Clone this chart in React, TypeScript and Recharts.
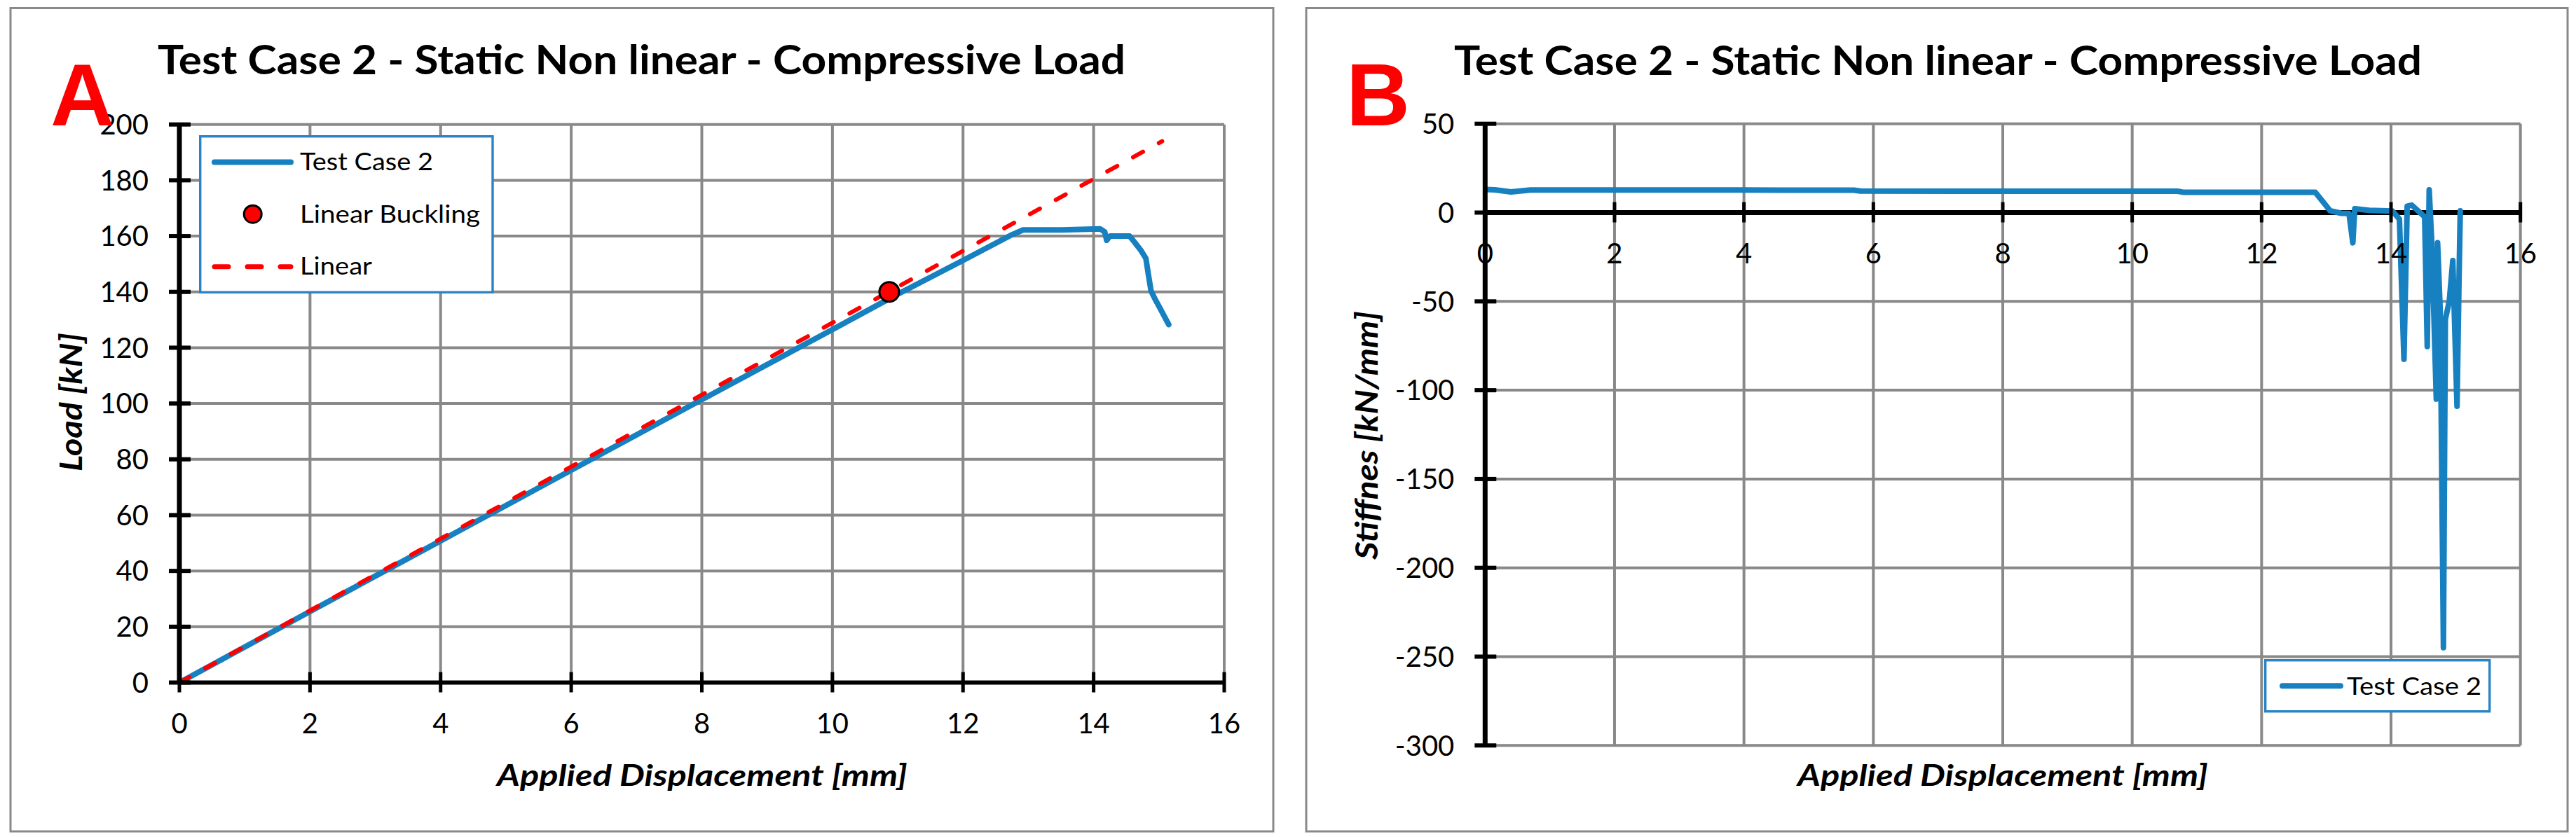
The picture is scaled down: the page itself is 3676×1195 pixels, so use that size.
import React from 'react';
import {
  ComposedChart,
  LineChart,
  Line,
  Scatter,
  XAxis,
  YAxis,
  CartesianGrid,
  Legend,
  ReferenceLine,
} from 'recharts';

// ---------- tick labels ----------
const dispTicks = [0, 2, 4, 6, 8, 10, 12, 14, 16];
const loadTicks = [0, 20, 40, 60, 80, 100, 120, 140, 160, 180, 200];
const stiffTicks = [-300, -250, -200, -150, -100, -50, 0, 50];

// ---------- chart A : load vs displacement ----------
const testDisp = [0, 2, 4, 6, 8, 10, 11, 12, 12.75, 12.92, 13.5, 14.0, 14.1, 14.17, 14.2, 14.25, 14.55, 14.62, 14.72, 14.8, 14.84, 14.88, 14.95, 15.02, 15.15];
const testLoad = [0, 25.5, 50.8, 76.1, 101.4, 126.5, 139.2, 151.3, 160.5, 162.2, 162.2, 162.5, 162.6, 161.5, 158.5, 160, 160, 158, 155, 152, 146, 140.3, 137, 134, 128.3];
const linearDisp = [0, 15.05];
const linearLoad = [0, 194];
const bucklingDisp = [10.87];
const bucklingLoad = [140];

// ---------- chart B : stiffness vs displacement ----------
const stiffDisp = [0, 0.15, 0.4, 0.7, 2, 4, 5.7, 5.8, 10.7, 10.8, 12.83, 12.95, 13.06, 13.23, 13.35, 13.41, 13.44, 13.66, 14.02, 14.13, 14.2, 14.25, 14.32, 14.52, 14.56, 14.59, 14.63, 14.7, 14.72, 14.76, 14.81, 14.84, 14.9, 14.955, 15.02, 15.05, 15.07];
const stiffValue = [13, 12.8, 11.6, 12.7, 12.7, 12.7, 12.6, 12.1, 12.0, 11.4, 11.4, 6, 1, -0.4, -0.5, -17, 2.2, 1.3, 0.9, -3.7, -82.6, 3.6, 4.2, -2.4, -75.4, 12.8, -17, -105, -17, -55, -245, -60, -50, -27, -109, -40, 1];

const toPoints = (xs: number[], ys: number[]) => xs.map((x, i) => ({ x, y: ys[i] }));
const testData = toPoints(testDisp, testLoad);
const linearData = toPoints(linearDisp, linearLoad);
const bucklingData = toPoints(bucklingDisp, bucklingLoad);
const stiffData = toPoints(stiffDisp, stiffValue);

const BLUE = '#1780c0';
const BORDER_BLUE = '#2a84c4';
const GRID = '#898989';
const FONT = 'Lato, "Open Sans", sans-serif';

// ---------- layout ----------
const W = 1838;
const H = 1195;
const A_PLOT = { left: 256, top: 177.7, right: 1747, bottom: 974.5 };
const B_PLOT = { left: 281.3, top: 176.7, right: 1758.7, bottom: 1064.3 };
const AXIS_W = 60;
const AXIS_H = 30;
const B_LIFT = ((B_PLOT.bottom - B_PLOT.top) * 300) / 350; // distance from -300 to 0

const makeXTick = (lift: number) => (props: any) => {
  const { x, y, payload } = props;
  const ay = y - lift;
  return (
    <g>
      <line x1={x} x2={x} y1={ay - 15} y2={ay + 14} stroke="#000" strokeWidth={5} />
      <text x={x} y={ay + 72} textAnchor="middle" fontFamily={FONT} fontSize={40} fill="#000">
        {payload.value}
      </text>
    </g>
  );
};

const YTick = (props: any) => {
  const { x, y, payload } = props;
  return (
    <g>
      <line x1={x - 15} x2={x + 16} y1={y} y2={y} stroke="#000" strokeWidth={6} />
      <text x={x - 44} y={y + 14.3} textAnchor="end" fontFamily={FONT} fontSize={40} fill="#000">
        {payload.value}
      </text>
    </g>
  );
};

const LegendA = () => (
  <svg width={421} height={226} style={{ display: 'block' }}>
    <rect x={1.7} y={1.7} width={417.3} height={222.6} fill="#fff" stroke={BORDER_BLUE} strokeWidth={3.4} />
    <line x1={22} x2={131} y1={38.4} y2={38.4} stroke={BLUE} strokeWidth={8} strokeLinecap="round" />
    <text x={144} y={50} fontFamily={FONT} fontSize={35} fill="#000" textLength={190} lengthAdjust="spacingAndGlyphs">
      Test Case 2
    </text>
    <circle cx={76.7} cy={112.7} r={12.5} fill="#ff0000" stroke="#000" strokeWidth={3} />
    <text x={144} y={125} fontFamily={FONT} fontSize={35} fill="#000" textLength={257} lengthAdjust="spacingAndGlyphs">
      Linear Buckling
    </text>
    <line x1={22} x2={131} y1={187.7} y2={187.7} stroke="#ff0000" strokeWidth={7} strokeLinecap="round" strokeDasharray="20 27" />
    <text x={144} y={199} fontFamily={FONT} fontSize={35} fill="#000" textLength={103} lengthAdjust="spacingAndGlyphs">
      Linear
    </text>
  </svg>
);

const LegendB = () => (
  <svg width={324} height={77} style={{ display: 'block' }}>
    <rect x={1.7} y={1.7} width={320} height={73} fill="#fff" stroke={BORDER_BLUE} strokeWidth={3.4} />
    <line x1={26} x2={109} y1={38.3} y2={38.3} stroke={BLUE} strokeWidth={8} strokeLinecap="round" />
    <text x={118} y={50.7} fontFamily={FONT} fontSize={35} fill="#000" textLength={192} lengthAdjust="spacingAndGlyphs">
      Test Case 2
    </text>
  </svg>
);

const BucklingDot = (props: any) => (
  <circle cx={props.cx} cy={props.cy} r={14} fill="#ff0000" stroke="#000" strokeWidth={3} />
);

const TITLE = 'Test Case 2 - Static Non linear - Compressive Load';

export default function App() {
  return (
    <div style={{ position: 'absolute', left: 0, top: 0, width: 3676, height: 1195, background: '#fff', overflow: 'hidden' }}>
      <svg width={3676} height={1195} style={{ position: 'absolute', left: 0, top: 0 }}>
        <rect x={15} y={11.5} width={1802} height={1175.5} fill="#fff" stroke={GRID} strokeWidth={3} />
        <rect x={1864} y={11.5} width={1800} height={1175.5} fill="#fff" stroke={GRID} strokeWidth={3} />
      </svg>

      <div style={{ position: 'absolute', left: 0, top: 0 }}>
        <ComposedChart
          width={W}
          height={H}
          margin={{ top: A_PLOT.top, right: W - A_PLOT.right, bottom: H - A_PLOT.bottom - AXIS_H, left: A_PLOT.left - AXIS_W }}
        >
          <CartesianGrid stroke={GRID} strokeWidth={4} />
          <XAxis
            type="number"
            dataKey="x"
            domain={[0, 16]}
            ticks={dispTicks}
            interval={0}
            height={AXIS_H}
            axisLine={{ stroke: '#000', strokeWidth: 6 }}
            tickLine={false}
            tickSize={0}
            tickMargin={0}
            tick={makeXTick(0)}
            allowDataOverflow
          />
          <YAxis
            type="number"
            dataKey="y"
            domain={[0, 200]}
            ticks={loadTicks}
            interval={0}
            width={AXIS_W}
            axisLine={{ stroke: '#000', strokeWidth: 7 }}
            tickLine={false}
            tickSize={0}
            tickMargin={0}
            tick={YTick}
            allowDataOverflow
          />
          <Line
            data={testData}
            dataKey="y"
            name="Test Case 2"
            type="linear"
            stroke={BLUE}
            strokeWidth={8}
            strokeLinejoin="round"
            strokeLinecap="round"
            dot={false}
            activeDot={false}
            isAnimationActive={false}
          />
          <Line
            data={linearData}
            dataKey="y"
            name="Linear"
            type="linear"
            stroke="#ff0000"
            strokeWidth={6}
            strokeDasharray="16 26"
            strokeLinecap="round"
            dot={false}
            activeDot={false}
            isAnimationActive={false}
          />
          <Scatter data={bucklingData} dataKey="y" name="Linear Buckling" shape={BucklingDot} isAnimationActive={false} />
          <Legend
            layout="vertical"
            align="center"
            verticalAlign="middle"
            content={() => <LegendA />}
            wrapperStyle={{ left: 284.3, top: 193.3, width: 421, height: 226 }}
          />
        </ComposedChart>
      </div>

      <div style={{ position: 'absolute', left: W, top: 0 }}>
        <LineChart
          width={W}
          height={H}
          margin={{ top: B_PLOT.top, right: W - B_PLOT.right, bottom: H - B_PLOT.bottom - AXIS_H, left: B_PLOT.left - AXIS_W }}
        >
          <CartesianGrid stroke={GRID} strokeWidth={4} />
          <XAxis
            type="number"
            dataKey="x"
            domain={[0, 16]}
            ticks={dispTicks}
            interval={0}
            height={AXIS_H}
            axisLine={false}
            tickLine={false}
            tickSize={0}
            tickMargin={0}
            tick={makeXTick(B_LIFT)}
            allowDataOverflow
          />
          <YAxis
            type="number"
            dataKey="y"
            domain={[-300, 50]}
            ticks={stiffTicks}
            interval={0}
            width={AXIS_W}
            axisLine={{ stroke: '#000', strokeWidth: 7 }}
            tickLine={false}
            tickSize={0}
            tickMargin={0}
            tick={YTick}
            allowDataOverflow
          />
          <ReferenceLine y={0} stroke="#000" strokeWidth={7} />
          <Line
            data={stiffData}
            dataKey="y"
            name="Test Case 2"
            type="linear"
            stroke={BLUE}
            strokeWidth={8}
            strokeLinejoin="round"
            strokeLinecap="round"
            dot={false}
            activeDot={false}
            isAnimationActive={false}
          />
          <Legend
            layout="vertical"
            align="center"
            verticalAlign="middle"
            content={() => <LegendB />}
            wrapperStyle={{ left: 1393, top: 941, width: 324, height: 77 }}
          />
        </LineChart>
      </div>

      <svg width={3676} height={1195} style={{ position: 'absolute', left: 0, top: 0, pointerEvents: 'none' }}>
        <text x={225} y={106} fontFamily={FONT} fontWeight={700} fontSize={57} fill="#000" textLength={1381} lengthAdjust="spacingAndGlyphs">
          {TITLE}
        </text>
        <text x={2075} y={106.5} fontFamily={FONT} fontWeight={700} fontSize={57} fill="#000" textLength={1381} lengthAdjust="spacingAndGlyphs">
          {TITLE}
        </text>
        <text x={72} y={179.3} fontFamily='"Liberation Sans", Arial, sans-serif' fontWeight={700} fontSize={126} fill="#ff0000">
          A
        </text>
        <text x={1921} y={179.3} fontFamily='"Liberation Sans", Arial, sans-serif' fontWeight={700} fontSize={126} fill="#ff0000">
          B
        </text>
        <text x={709} y={1122.4} fontFamily={FONT} fontWeight={700} fontStyle="italic" fontSize={42} fill="#000" textLength={586} lengthAdjust="spacingAndGlyphs">
          Applied Displacement [mm]
        </text>
        <text x={2565} y={1122.4} fontFamily={FONT} fontWeight={700} fontStyle="italic" fontSize={42} fill="#000" textLength={586} lengthAdjust="spacingAndGlyphs">
          Applied Displacement [mm]
        </text>
        <text
          x={117}
          y={574}
          transform="rotate(-90 117 574)"
          textAnchor="middle"
          fontFamily={FONT}
          fontWeight={700}
          fontStyle="italic"
          fontSize={43}
          fill="#000"
          textLength={198}
          lengthAdjust="spacingAndGlyphs"
        >
          Load [kN]
        </text>
        <text
          x={1966}
          y={621.5}
          transform="rotate(-90 1966 621.5)"
          textAnchor="middle"
          fontFamily={FONT}
          fontWeight={700}
          fontStyle="italic"
          fontSize={43}
          fill="#000"
          textLength={355}
          lengthAdjust="spacingAndGlyphs"
        >
          Stiffnes [kN/mm]
        </text>
      </svg>
    </div>
  );
}
